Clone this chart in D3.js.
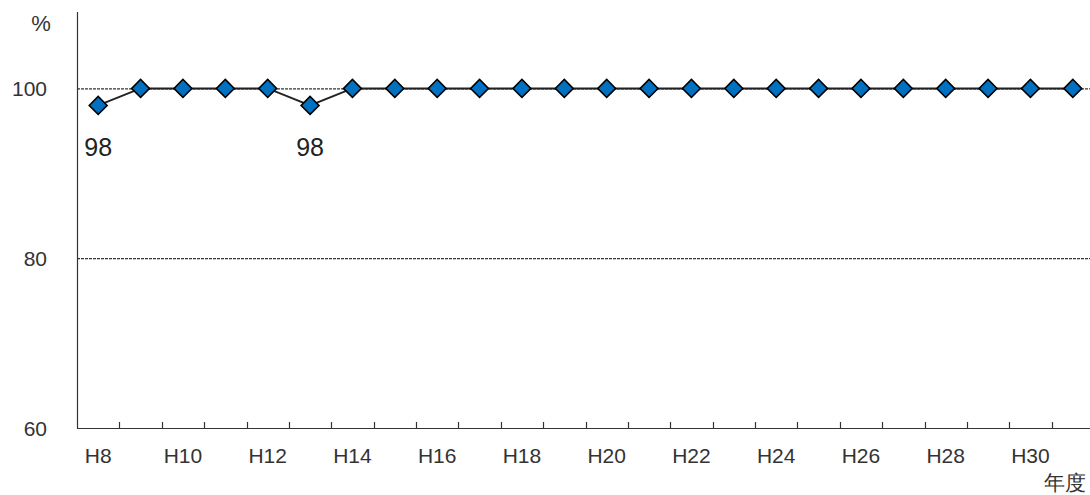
<!DOCTYPE html>
<html><head><meta charset="utf-8">
<script src="https://cdn.jsdelivr.net/npm/d3@7"></script>
<style>body{margin:0;background:#fff;}svg text{font-family:"Liberation Sans",Arial,sans-serif;}</style>
</head><body>
<svg id="c" width="1090" height="495"></svg>
<script>
const categories = ["H8","H9","H10","H11","H12","H13","H14","H15","H16","H17","H18","H19","H20","H21","H22","H23","H24","H25","H26","H27","H28","H29","H30","H31"];
const values = [98,100,100,100,100,98,100,100,100,100,100,100,100,100,100,100,100,100,100,100,100,100,100,100];
const yTicks = [60,80,100];
const gridValues = [80,100];
const dataLabels = [{i:0,text:"98"},{i:5,text:"98"}];
const yDomain = [60,109];

const svg = d3.select("#c");
const x = d3.scaleBand().domain(categories).range([77,1094]).padding(0);
const y = d3.scaleLinear().domain(yDomain).range([428,12]);

// grid
svg.selectAll(".grid").data(gridValues).enter().append("line")
  .attr("x1",77).attr("x2",1090).attr("y1",d=>y(d)+0.5).attr("y2",d=>y(d)+0.5)
  .attr("stroke","#000").attr("stroke-width",1).attr("stroke-dasharray","3,1");

// y axis
svg.append("line").attr("x1",77.5).attr("x2",77.5).attr("y1",y(yDomain[1])).attr("y2",y(60))
  .attr("stroke","#333").attr("stroke-width",1.2);
svg.selectAll(".yl").data(yTicks).enter().append("text")
  .attr("x",47).attr("y",d=>y(d)+8).attr("text-anchor","end")
  .attr("font-size",21).attr("fill","#333").text(d=>d);
svg.append("text").attr("x",41).attr("y",31).attr("text-anchor","middle").attr("font-size",22).attr("fill","#333").text("%");

// x axis
svg.append("line").attr("x1",77).attr("x2",1090).attr("y1",y(60)+0.5).attr("y2",y(60)+0.5)
  .attr("stroke","#333").attr("stroke-width",1.2);
svg.selectAll(".xt").data(categories.slice(1)).enter().append("line")
  .attr("x1",d=>Math.round(x(d))+0.5).attr("x2",d=>Math.round(x(d))+0.5)
  .attr("y1",y(60)).attr("y2",y(60)-6).attr("stroke","#333").attr("stroke-width",1.2);
svg.selectAll(".xl").data(categories.filter((d,i)=>i%2===0)).enter().append("text")
  .attr("x",d=>x(d)+x.bandwidth()/2).attr("y",463).attr("text-anchor","middle")
  .attr("font-size",21).attr("fill","#333").text(d=>d);
svg.append("text").attr("x",1086).attr("y",490).attr("text-anchor","end").attr("font-size",21).attr("fill","#333")
  .attr("font-family","'Noto Sans CJK JP',sans-serif").text("年度");

// line
const pts = categories.map((c,i)=>[x(c)+x.bandwidth()/2, y(values[i])]);
svg.append("path").attr("d",d3.line()(pts)).attr("fill","none").attr("stroke","#222").attr("stroke-width",2);

// markers
svg.selectAll(".m").data(pts).enter().append("path")
  .attr("d",d3.symbol().type(d3.symbolSquare).size(160))
  .attr("transform",d=>`translate(${d[0]},${d[1]}) rotate(45)`)
  .attr("fill","#0070C0").attr("stroke","#000").attr("stroke-width",1.6);

// data labels
svg.selectAll(".dl").data(dataLabels).enter().append("text")
  .attr("x",d=>pts[d.i][0]).attr("y",156).attr("text-anchor","middle")
  .attr("font-size",25).attr("fill","#222").text(d=>d.text);
</script>
</body></html>
